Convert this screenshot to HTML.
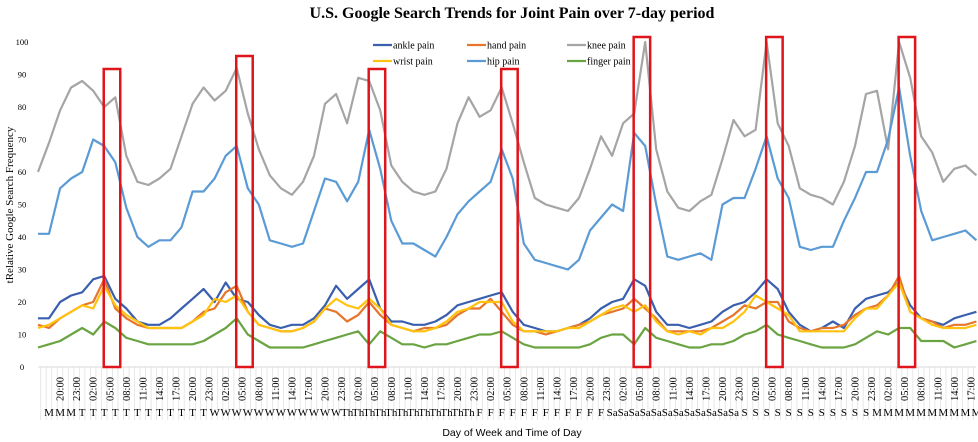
<!DOCTYPE html>
<html><head><meta charset="utf-8"><style>
html,body{margin:0;padding:0;background:#fff;}
svg{display:block;}
</style></head><body>
<svg id="chart" width="978" height="442" viewBox="0 0 978 442" xmlns="http://www.w3.org/2000/svg">
<text x="512" y="18" text-anchor="middle" font-family="Liberation Serif, serif" font-weight="bold" font-size="16">U.S. Google Search Trends for Joint Pain over 7-day period</text>
<text transform="translate(13,205) rotate(-90)" text-anchor="middle" font-family="Liberation Serif, serif" font-size="11">tRelative Google Search Frequency</text>
<text x="512" y="436" text-anchor="middle" font-family="Liberation Sans, sans-serif" font-size="10.5">Day of Week and Time of Day</text>
<g id="grid"></g><g id="yticks"></g><g id="xlabels"></g><g id="series"></g><g id="boxes"></g>
<g id="legend"></g>
</svg>
<script>
const knee=[60,69,79,86,88,85,80,83,65,57, 56,58,61,71,81,86,82,85,92,78, 67,59,55,53,57,65,81,84,75,89, 88,79,62,57,54,53,54,61,75,83, 77,79,86,75,63,52,50,49,48,52, 61,71,65,75,78,100,67,54,49,48, 51,53,64,76,71,73,100,75,68,55, 53,52,50,57,68,84,85,67,100,89, 71,66,57,61,62,59];
const hip=[41,41,55,58,60,70,68,63,49,40, 37,39,39,43,54,54,58,65,68,55, 50,39,38,37,38,48,58,57,51,57, 73,61,45,38,38,36,34,40,47,51, 54,57,67,58,38,33,32,31,30,33, 42,46,50,48,72,68,50,34,33,34, 35,33,50,52,52,61,71,58,52,37, 36,37,37,45,52,60,60,70,86,65, 48,39,40,41,42,39];
const ankle=[15,15,20,22,23,27,28,21,18,14, 13,13,15,18,21,24,20,26,21,20, 16,13,12,13,13,15,19,25,21,24, 27,18,14,14,13,13,14,16,19,20, 21,22,23,17,13,12,11,11,12,13, 15,18,20,21,27,25,17,13,13,12, 13,14,17,19,20,23,27,24,17,13, 11,12,14,12,18,21,22,23,26,19, 15,14,13,15,16,17];
const hand=[13,12,15,17,19,20,27,18,15,13, 12,12,12,12,14,17,18,23,25,17, 13,12,11,11,12,14,18,17,14,16, 20,16,13,12,11,12,12,13,16,18, 18,21,17,13,11,11,10,11,12,13, 14,16,17,18,21,18,15,11,11,11, 11,12,14,16,19,18,20,20,14,12, 11,12,12,13,16,18,19,22,28,17, 15,14,12,13,13,14];
const wrist=[12,13,15,17,19,18,25,19,16,14, 12,12,12,12,14,16,21,20,22,17, 13,12,11,11,12,14,18,21,19,18, 21,18,13,12,11,11,12,14,17,18, 20,20,20,14,11,11,11,11,12,12, 14,16,18,19,17,19,14,11,10,11, 10,12,12,14,17,22,20,18,16,11, 11,11,11,11,15,18,18,22,26,17, 15,13,12,12,12,13];
const finger=[6,7,8,10,12,10,14,12,9,8, 7,7,7,7,7,8,10,12,15,10, 8,6,6,6,6,7,8,9,10,11, 7,11,9,7,7,6,7,7,8,9, 10,10,11,9,7,6,6,6,6,6, 7,9,10,10,7,12,9,8,7,6, 6,7,7,8,10,11,13,10,9,8, 7,6,6,6,7,9,11,10,12,12, 8,8,8,6,7,8];
const seriesNames=["ankle pain","hand pain","knee pain","wrist pain","hip pain","finger pain"];
const yTicks=[0,10,20,30,40,50,60,70,80,90,100];
const dayLetters=["M","T","W","Th","F","Sa","S","M"];
const startHour=16, totalHours=171, stepHours=2;

const NS="http://www.w3.org/2000/svg";
const x0=38, hourPx=5.52, yBase=367, unitPx=3.25;
const xH=h=>x0+h*hourPx;
const xK=k=>xH(k*stepHours);
const yV=v=>yBase-v*unitPx;
function mk(tag,attrs,parent){const e=document.createElementNS(NS,tag);for(const k in attrs)e.setAttribute(k,attrs[k]);parent.appendChild(e);return e;}
const grid=document.getElementById('grid');
for(let h=0;h<totalHours;h++){
  const l=mk('line',{x1:xH(h)+2.7,x2:xH(h)+2.7,y1:yBase,y2:420,stroke:'#e2e2e2','stroke-width':0.8},grid);
  
  
}
const ax=mk('line',{x1:x0,x2:976,y1:yBase,y2:yBase,stroke:'#d9d9d9','stroke-width':1},grid);


const yt=document.getElementById('yticks');
yTicks.forEach(v=>{
  const t=mk('text',{x:22,y:yV(v)+3,'text-anchor':'middle','font-family':'Liberation Serif, serif','font-size':8.5},yt);
  t.textContent=v;
  
  
});
const xl=document.getElementById('xlabels');
for(let h=4;h<totalHours;h+=3){
  const hr=(startHour+h)%24;
  const s=(hr<10?'0':'')+hr+':00';
  const t=mk('text',{transform:`translate(${xH(h)+3.5},389) rotate(-90)`,'text-anchor':'middle','font-family':'Liberation Serif, serif','font-size':10.5},xl);
  t.textContent=s;
  
  
}
for(let h=2;h<totalHours;h+=2){
  const d=Math.floor((startHour+h)/24);
  const t=mk('text',{x:xH(h),y:416,'text-anchor':'middle','font-family':'Liberation Serif, serif','font-size':11},xl);
  t.textContent=dayLetters[d];
  
  
}
const colors=["#3a5fae","#e6762b","#a5a5a5","#ffc20e","#5b9bd5","#6aa342"];
const data=[ankle,hand,knee,wrist,hip,finger];
const order=[2,4,0,5,1,3];
const sg=document.getElementById('series');
order.forEach(i=>{
  const pts=data[i].map((v,k)=>xK(k).toFixed(1)+','+yV(v).toFixed(1)).join(' ');
  const p=mk('polyline',{points:pts,fill:'none',stroke:colors[i],'stroke-width':2.2,'stroke-linejoin':'round'},sg);
  
  
});
const boxStarts=[12,36,60,84,108,132,156];
const boxTops=[69,56,69,69,37,37,37];
const bg=document.getElementById('boxes');
boxStarts.forEach((h,i)=>{
  const r=mk('rect',{x:xH(h)-0.5,y:boxTops[i],width:16.5,height:yBase-boxTops[i],fill:'none',stroke:'#e0141b','stroke-width':2.5},bg);
  
  
});
const lg=document.getElementById('legend');
const lx=[373,467,567], ly=[45,61];
seriesNames.forEach((n,i)=>{
  const cx=lx[i%3], cy=ly[Math.floor(i/3)];
  const l=mk('line',{x1:cx,x2:cx+19,y1:cy,y2:cy,stroke:colors[i],'stroke-width':2.2},lg);
  
  
  const t=mk('text',{x:cx+20,y:cy+3.5,'font-family':'Liberation Serif, serif','font-size':10},lg);
  t.textContent=n;
  
  
});
</script>
</body></html>
